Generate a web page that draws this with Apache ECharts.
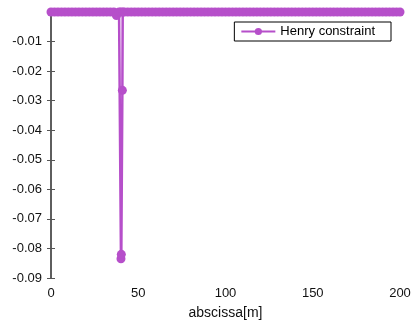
<!DOCTYPE html>
<html>
<head>
<meta charset="utf-8">
<script src="https://cdn.jsdelivr.net/npm/echarts@6/dist/echarts.min.js"></script>
<style>html,body{margin:0;padding:0;background:#fff}#c{width:414px;height:325px}</style>
</head>
<body>
<div id="c"></div>
<script>
var seriesName = 'Henry constraint';
var xName = 'abscissa[m]';
var xValues = [0,2,4,6,8,10,12,14,16,18,20,22,24,26,28,30,32,34,36,37.5,39,40,40.1,40.3,40.9,41.1,42,44,46,48,50,52,54,56,58,60,62,64,66,68,70,72,74,76,78,80,82,84,86,88,90,92,94,96,98,100,102,104,106,108,110,112,114,116,118,120,122,124,126,128,130,132,134,136,138,140,142,144,146,148,150,152,154,156,158,160,162,164,166,168,170,172,174,176,178,180,182,184,186,188,190,192,194,196,198,200];
var yValues = [0,0,0,0,0,0,0,0,0,0,0,0,0,0,0,0,0,0,0,-0.0012,0,0,-0.0835,-0.082,-0.0265,0,0,0,0,0,0,0,0,0,0,0,0,0,0,0,0,0,0,0,0,0,0,0,0,0,0,0,0,0,0,0,0,0,0,0,0,0,0,0,0,0,0,0,0,0,0,0,0,0,0,0,0,0,0,0,0,0,0,0,0,0,0,0,0,0,0,0,0,0,0,0,0,0,0,0,0,0,0,0,0,0];
var xTicks = [0, 50, 100, 150, 200];

var data = xValues.map(function(x, i){ return [x, yValues[i]]; });
var color = '#b64fca';
var font = 'Liberation Sans, Arial, sans-serif';
var chart = echarts.init(document.getElementById('c'));
chart.setOption({
  animation: false,
  textStyle: {fontFamily: font},
  grid: {left: 51, right: 14, top: 12, bottom: 43, containLabel: false},
  legend: {
    data: [seriesName],
    right: 23, top: 22,
    borderColor: '#000', borderWidth: 1, borderRadius: 0,
    padding: [3, 16, 3, 6],
    itemWidth: 34, itemHeight: 9, itemGap: 4,
    textStyle: {fontSize: 13, color: '#000', fontFamily: font}
  },
  xAxis: [{
    type: 'value', min: xTicks[0], max: xTicks[xTicks.length-1], interval: 50,
    name: xName, nameLocation: 'middle', nameGap: 28,
    nameTextStyle: {fontSize: 14, color: '#111', fontFamily: font},
    axisLine: {show: true, lineStyle: {color: '#555', width: 1.5}},
    axisTick: {show: true, inside: true, length: 4, lineStyle: {color: '#555'}},
    axisLabel: {fontSize: 13, color: '#111', margin: 9, fontFamily: font},
    splitLine: {show: false}
  }, {
    type: 'value', position: 'top', min: 0, max: 200, interval: 50,
    axisLine: {show: true, lineStyle: {color: '#555'}},
    axisTick: {show: false}, axisLabel: {show: false}, splitLine: {show: false}
  }],
  yAxis: [{
    type: 'value', min: -0.09, max: 0, interval: 0.01,
    axisLine: {show: true, lineStyle: {color: '#555', width: 1.5}},
    axisTick: {show: true, inside: true, length: 4, lineStyle: {color: '#555'}},
    axisLabel: {fontSize: 13, color: '#111', margin: 9, fontFamily: font,
      formatter: function(v){ return Math.abs(v) < 1e-9 ? '' : v.toFixed(2); }},
    splitLine: {show: false}
  }, {
    type: 'value', position: 'right', min: -0.09, max: 0, interval: 0.01,
    axisLine: {show: true, lineStyle: {color: '#555', width: 1.5}},
    axisTick: {show: true, inside: true, length: 4, lineStyle: {color: '#555'}},
    axisLabel: {show: false}, splitLine: {show: false}
  }],
  series: [{
    name: seriesName, type: 'line', data: data,
    xAxisIndex: 0, yAxisIndex: 0,
    symbol: 'circle', symbolSize: 9, showAllSymbol: true,
    clip: false,
    lineStyle: {color: color, width: 2.5},
    itemStyle: {color: color}
  }]
});
</script>
</body>
</html>
